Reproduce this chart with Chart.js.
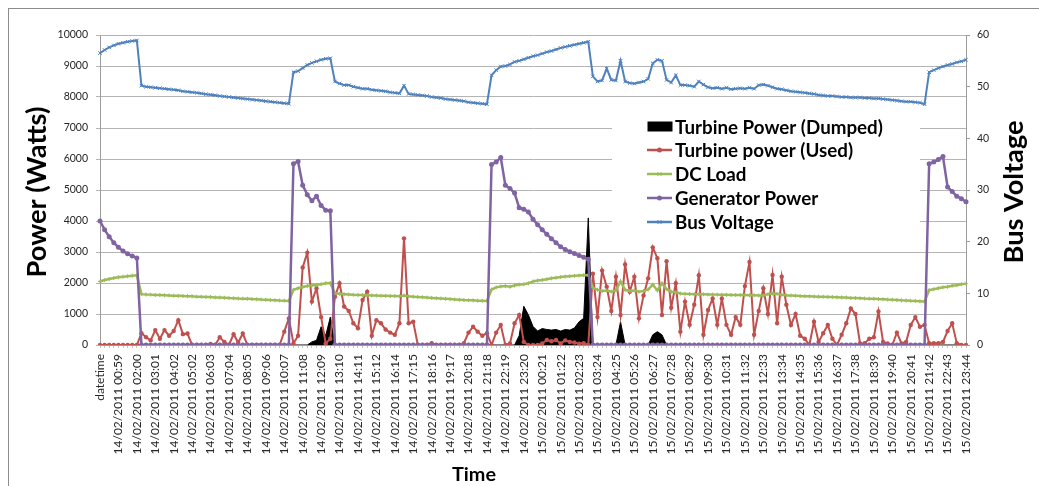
<!DOCTYPE html>
<html>
<head>
<meta charset="utf-8">
<script src="https://cdn.jsdelivr.net/npm/chart.js@4.4.0/dist/chart.umd.min.js"></script>
<style>
  html, body { margin: 0; padding: 0; background: #fff; }
  #wrap { width: 1039px; height: 486px; position: relative; }
</style>
</head>
<body>
<div id="wrap"><canvas id="chart" width="1039" height="486"></canvas></div>
<script>
// tick labels shown on the time axis (one every 4 samples)
var timeLabels = ['datetime',
  '14/02/2011 00:59', '14/02/2011 02:00', '14/02/2011 03:01', '14/02/2011 04:02', '14/02/2011 05:02',
  '14/02/2011 06:03', '14/02/2011 07:04', '14/02/2011 08:05', '14/02/2011 09:06', '14/02/2011 10:07',
  '14/02/2011 11:08', '14/02/2011 12:09', '14/02/2011 13:10', '14/02/2011 14:11', '14/02/2011 15:12',
  '14/02/2011 16:14', '14/02/2011 17:15', '14/02/2011 18:16', '14/02/2011 19:17', '14/02/2011 20:18',
  '14/02/2011 21:18', '14/02/2011 22:19', '14/02/2011 23:20',
  '15/02/2011 00:21', '15/02/2011 01:22', '15/02/2011 02:23', '15/02/2011 03:24', '15/02/2011 04:25',
  '15/02/2011 05:26', '15/02/2011 06:27', '15/02/2011 07:28', '15/02/2011 08:29', '15/02/2011 09:30',
  '15/02/2011 10:31', '15/02/2011 11:32', '15/02/2011 12:33', '15/02/2011 13:34', '15/02/2011 14:35',
  '15/02/2011 15:36', '15/02/2011 16:37', '15/02/2011 17:38', '15/02/2011 18:39', '15/02/2011 19:40',
  '15/02/2011 20:41', '15/02/2011 21:42', '15/02/2011 22:43', '15/02/2011 23:44'];

var seriesNames = ['Turbine Power (Dumped)', 'Turbine power (Used)', 'DC Load', 'Generator Power', 'Bus Voltage'];

// Watts
var dumped = [
  0, 0, 0, 0, 0, 0, 0, 0, 0, 0,
  0, 0, 0, 0, 0, 0, 0, 0, 0, 0,
  0, 0, 0, 0, 0, 0, 0, 0, 0, 0,
  0, 0, 0, 0, 0, 0, 0, 0, 0, 0,
  0, 0, 0, 0, 0, 0, 100, 150, 590, 300,
  900, 0, 0, 0, 0, 0, 0, 0, 0, 0,
  0, 0, 0, 0, 0, 0, 0, 0, 0, 0,
  0, 0, 0, 0, 0, 0, 0, 0, 0, 0,
  0, 0, 0, 0, 0, 0, 0, 0, 0, 0,
  0, 300, 1250, 970, 600, 450, 530, 500, 480, 500,
  450, 500, 480, 550, 750, 860, 4100, 0, 0, 0,
  0, 0, 0, 750, 0, 0, 0, 0, 0, 0,
  330, 430, 330, 0, 0, 0, 0, 0, 0, 0,
  0, 0, 0, 0, 0, 0, 0, 0, 0, 0,
  0, 0, 0, 0, 0, 0, 0, 0, 0, 0,
  0, 0, 0, 0, 0, 0, 0, 0, 0, 0,
  0, 0, 0, 0, 0, 0, 0, 0, 0, 0,
  0, 0, 0, 0, 0, 0, 0, 0, 0, 0,
  0, 0, 0, 0, 0, 0, 0, 0, 0];

var usedPower = [
  0, 0, 0, 0, 0, 0, 0, 0, 0, 380,
  250, 150, 480, 200, 480, 300, 450, 800, 350, 370,
  0, 0, 0, 0, 30, 0, 250, 100, 0, 350,
  80, 370, 0, 0, 0, 0, 0, 0, 0, 0,
  430, 860, 50, 300, 2500, 2980, 1400, 1830, 900, 50,
  200, 1560, 1990, 1240, 1100, 700, 540, 1450, 1720, 300,
  800, 700, 500, 400, 330, 700, 3440, 700, 750, 0,
  0, 0, 60, 0, 0, 0, 0, 0, 0, 60,
  400, 590, 430, 300, 380, 0, 400, 645, 0, 50,
  700, 970, 100, 0, 0, 0, 50, 160, 120, 160,
  50, 150, 100, 80, 40, 60, 0, 2300, 900, 2400,
  1880, 1100, 2200, 970, 2600, 1720, 2200, 860, 1600, 2150,
  3150, 2800, 970, 2700, 1200, 1990, 430, 1400, 650, 1300,
  2250, 330, 1130, 1500, 650, 1500, 650, 330, 900, 650,
  1900, 2680, 330, 1100, 1830, 1000, 2260, 700, 2200, 1300,
  645, 1000, 300, 200, 0, 750, 100, 380, 645, 200,
  0, 330, 700, 1180, 1000, 50, 60, 200, 250, 1080,
  100, 50, 0, 400, 50, 100, 645, 900, 590, 645,
  60, 60, 60, 100, 450, 700, 60, 0, 0];

var dcLoad = [
  2050, 2095, 2130, 2160, 2185, 2205, 2220, 2235, 2250, 1640,
  1630, 1625, 1615, 1610, 1605, 1600, 1590, 1585, 1580, 1575,
  1570, 1560, 1555, 1550, 1545, 1535, 1530, 1525, 1515, 1510,
  1500, 1495, 1490, 1480, 1475, 1465, 1460, 1450, 1445, 1435,
  1430, 1420, 1780, 1830, 1870, 1900, 1920, 1940, 1960, 1990,
  2000, 1670, 1650, 1640, 1630, 1620, 1615, 1610, 1605, 1600,
  1595, 1590, 1585, 1580, 1580, 1575, 1600, 1570, 1560, 1550,
  1540, 1530, 1520, 1510, 1500, 1490, 1480, 1470, 1460, 1450,
  1445, 1440, 1430, 1425, 1420, 1790, 1860, 1890, 1900, 1880,
  1920, 1950, 1960, 1990, 2050, 2080, 2100, 2120, 2150, 2170,
  2190, 2210, 2220, 2230, 2240, 2250, 2255, 1850, 1780, 1740,
  1760, 1720, 1760, 2050, 1780, 1740, 1760, 1720, 1740, 1790,
  1950, 1760, 1990, 1800, 1720, 1700, 1660, 1650, 1645, 1640,
  1640, 1635, 1630, 1630, 1625, 1620, 1620, 1615, 1615, 1610,
  1610, 1605, 1605, 1600, 1600, 1640, 1660, 1650, 1620, 1600,
  1595, 1590, 1580, 1575, 1570, 1565, 1560, 1555, 1550, 1545,
  1540, 1535, 1530, 1520, 1515, 1510, 1500, 1495, 1490, 1480,
  1475, 1465, 1460, 1450, 1440, 1435, 1425, 1420, 1410, 1400,
  1770, 1800, 1830, 1860, 1880, 1910, 1930, 1960, 1980];

var genPower = [
  4000, 3720, 3490, 3300, 3150, 3030, 2940, 2870, 2810, 0,
  0, 0, 0, 0, 0, 0, 0, 0, 0, 0,
  0, 0, 0, 0, 0, 0, 0, 0, 0, 0,
  0, 0, 0, 0, 0, 0, 0, 0, 0, 0,
  0, 0, 5850, 5920, 5150, 4850, 4650, 4800, 4500, 4350,
  4330, 0, 0, 0, 0, 0, 0, 0, 0, 0,
  0, 0, 0, 0, 0, 0, 0, 0, 0, 0,
  0, 0, 0, 0, 0, 0, 0, 0, 0, 0,
  0, 0, 0, 0, 0, 5820, 5900, 6050, 5150, 5050,
  4900, 4430, 4380, 4290, 4060, 3880, 3720, 3570, 3430, 3300,
  3170, 3080, 3010, 2950, 2890, 2830, 2770, 0, 0, 0,
  0, 0, 0, 0, 0, 0, 0, 0, 0, 0,
  0, 0, 0, 0, 0, 0, 0, 0, 0, 0,
  0, 0, 0, 0, 0, 0, 0, 0, 0, 0,
  0, 0, 0, 0, 0, 0, 0, 0, 0, 0,
  0, 0, 0, 0, 0, 0, 0, 0, 0, 0,
  0, 0, 0, 0, 0, 0, 0, 0, 0, 0,
  0, 0, 0, 0, 0, 0, 0, 0, 0, 0,
  5850, 5900, 5980, 6080, 5100, 4950, 4800, 4720, 4620];

// Volts (right axis)
var busVoltage = [
  56.5, 57.1, 57.6, 58.0, 58.3, 58.5, 58.7, 58.85, 58.95, 50.2,
  50.0, 49.9, 49.8, 49.7, 49.6, 49.5, 49.4, 49.3, 49.1, 49.0,
  48.9, 48.8, 48.7, 48.55, 48.45, 48.35, 48.2, 48.1, 48.0, 47.9,
  47.8, 47.7, 47.6, 47.5, 47.4, 47.3, 47.2, 47.1, 47.0, 46.9,
  46.8, 46.7, 52.8, 53.0, 53.6, 54.2, 54.6, 54.9, 55.2, 55.4,
  55.5, 51.0, 50.6, 50.3, 50.3, 50.0, 49.8, 49.6, 49.6, 49.4,
  49.3, 49.2, 49.1, 48.9, 48.8, 48.7, 50.2, 48.6, 48.5, 48.4,
  48.3, 48.2, 48.0, 47.9, 47.8, 47.6, 47.5, 47.4, 47.3, 47.2,
  47.0, 46.9, 46.8, 46.7, 46.6, 52.2, 53.2, 53.9, 54.0, 54.3,
  54.8, 55.0, 55.3, 55.6, 55.9, 56.1, 56.4, 56.7, 56.9, 57.2,
  57.5, 57.7, 57.9, 58.1, 58.3, 58.5, 58.7, 52.0, 51.0, 51.2,
  53.5, 51.3, 51.2, 55.0, 51.0, 50.7, 50.6, 50.8, 51.0, 51.5,
  54.5, 55.2, 55.0, 51.3, 50.8, 52.2, 50.3, 50.3, 50.2, 50.0,
  51.0, 50.4, 49.9, 49.7, 49.8, 49.6, 49.8, 49.5, 49.6, 49.7,
  49.6, 49.8, 49.6, 50.3, 50.4, 50.2, 49.9, 49.6, 49.5, 49.3,
  49.1, 49.0, 48.9, 48.8, 48.7, 48.6, 48.4, 48.3, 48.2, 48.2,
  48.1, 48.0, 48.0, 47.9, 47.9, 47.9, 47.8, 47.8, 47.7, 47.7,
  47.6, 47.5, 47.4, 47.3, 47.2, 47.1, 47.1, 47.0, 46.9, 46.6,
  52.8, 53.2, 53.6, 53.9, 54.2, 54.4, 54.7, 54.9, 55.2];

// one category per sample, only every 4th one carries a label
var categories = [];
timeLabels.forEach(function (t, i) {
  categories.push(t);
  if (i < timeLabels.length - 1) categories.push('', '', '');
});

var FONT = 'Lato, "Open Sans", sans-serif';
var colors = ['#000000', '#C0504D', '#9BBB59', '#8064A2', '#4F81BD'];

function fitSize(c, text, width) {
  c.font = 'bold 100px ' + FONT;
  return 100 * width / c.measureText(text).width;
}

function drawTitle(c, text, x, y, width, rot) {
  var s = fitSize(c, text, width);
  c.save();
  c.translate(x, y);
  c.rotate(rot);
  c.font = 'bold ' + s + 'px ' + FONT;
  c.fillStyle = '#000';
  c.textAlign = 'center';
  c.textBaseline = 'middle';
  c.fillText(text, 0, 0);
  c.restore();
}

var decor = {
  id: 'decor',
  beforeDraw: function (chart) {
    var c = chart.ctx;
    c.save();
    c.strokeStyle = '#8c8c8c';
    c.lineWidth = 1;
    c.strokeRect(8.5, 8.5, 1100, 600);
    c.restore();
  },
  afterDraw: function (chart) {
    var c = chart.ctx;
    c.save();
    // legend
    c.fillStyle = '#fff';
    c.fillRect(612, 106, 308, 132);
    var rows = [126.5, 150, 174, 198, 222];
    var size = fitSize(c, seriesNames[0], 208);
    for (var i = 0; i < seriesNames.length; i++) {
      var y = rows[i];
      c.fillStyle = colors[i];
      c.strokeStyle = colors[i];
      if (i === 0) {
        c.fillRect(647.5, y - 5, 25, 10);
      } else {
        c.lineWidth = 2.5;
        c.beginPath();
        c.moveTo(647, y);
        c.lineTo(672, y);
        c.stroke();
        c.lineWidth = 1;
        if (i === 1 || i === 3) {
          c.beginPath();
          c.arc(659.5, y, 2.5, 0, Math.PI * 2);
          c.fill();
        } else {
          c.beginPath();
          c.moveTo(657.5, y - 2); c.lineTo(661.5, y + 2);
          c.moveTo(661.5, y - 2); c.lineTo(657.5, y + 2);
          c.stroke();
        }
      }
      c.fillStyle = '#000';
      c.font = 'bold ' + size + 'px ' + FONT;
      c.textAlign = 'left';
      c.textBaseline = 'middle';
      c.fillText(seriesNames[i], 675, y + 1);
    }
    c.restore();
    // axis titles
    drawTitle(c, 'Power (Watts)', 37, 192, 171, -Math.PI / 2);
    drawTitle(c, 'Bus Voltage', 1014, 192, 143, -Math.PI / 2);
    drawTitle(c, 'Time', 474, 475, 44, 0);
  }
};

Chart.defaults.font.family = FONT;
Chart.defaults.color = '#262626';

var ctx = document.getElementById('chart').getContext('2d');
var chart = new Chart(ctx, {
  type: 'line',
  data: {
    labels: categories,
    datasets: [{
      label: seriesNames[0],
      data: dumped,
      yAxisID: 'y',
      borderColor: colors[0],
      backgroundColor: colors[0],
      borderWidth: 1,
      pointRadius: 0,
      fill: 'origin',
      order: 5
    }, {
      label: seriesNames[1],
      data: usedPower,
      yAxisID: 'y',
      borderColor: colors[1],
      backgroundColor: colors[1],
      borderWidth: 2,
      pointStyle: 'circle',
      pointRadius: 2.2,
      pointBorderWidth: 0,
      order: 4
    }, {
      label: seriesNames[2],
      data: dcLoad,
      yAxisID: 'y',
      borderColor: colors[2],
      backgroundColor: colors[2],
      borderWidth: 2.5,
      pointStyle: 'cross',
      pointRadius: 2,
      pointBorderWidth: 1,
      order: 3
    }, {
      label: seriesNames[3],
      data: genPower,
      yAxisID: 'y',
      borderColor: colors[3],
      backgroundColor: colors[3],
      borderWidth: 2.5,
      pointStyle: 'circle',
      pointRadius: 2.5,
      pointBorderWidth: 0,
      order: 2
    }, {
      label: seriesNames[4],
      data: busVoltage,
      yAxisID: 'y2',
      borderColor: colors[4],
      backgroundColor: colors[4],
      borderWidth: 2,
      pointStyle: 'crossRot',
      pointRadius: 2.5,
      pointBorderWidth: 1,
      order: 1
    }]
  },
  options: {
    animation: false,
    responsive: false,
    layout: { padding: { top: 35, left: 0, right: 0, bottom: 0 } },
    elements: { line: { tension: 0 } },
    plugins: {
      legend: { display: false },
      tooltip: { enabled: false }
    },
    scales: {
      x: {
        ticks: { autoSkip: false, maxRotation: 90, minRotation: 90, padding: 6, font: { size: 12 }, color: '#262626' },
        grid: { drawOnChartArea: false, tickLength: 3, color: '#c4c4c4' },
        border: { color: '#9c9c9c' },
        afterFit: function (s) { s.height = 141; }
      },
      y: {
        position: 'left',
        min: 0,
        max: 10000,
        ticks: { stepSize: 1000, padding: 8, font: { size: 10.5 }, callback: function (v) { return String(v); } },
        grid: { color: '#b4b4b4', tickLength: 4 },
        border: { color: '#9c9c9c' },
        afterFit: function (s) { s.width = 100; }
      },
      y2: {
        position: 'right',
        min: 0,
        max: 60,
        ticks: { stepSize: 10, padding: 7, font: { size: 10.5 }, callback: function (v) { return String(v); } },
        grid: { drawOnChartArea: false, tickLength: 4, color: '#9c9c9c' },
        border: { color: '#9c9c9c' },
        afterFit: function (s) { s.width = 73; }
      }
    }
  },
  plugins: [decor]
});
</script>
</body>
</html>
